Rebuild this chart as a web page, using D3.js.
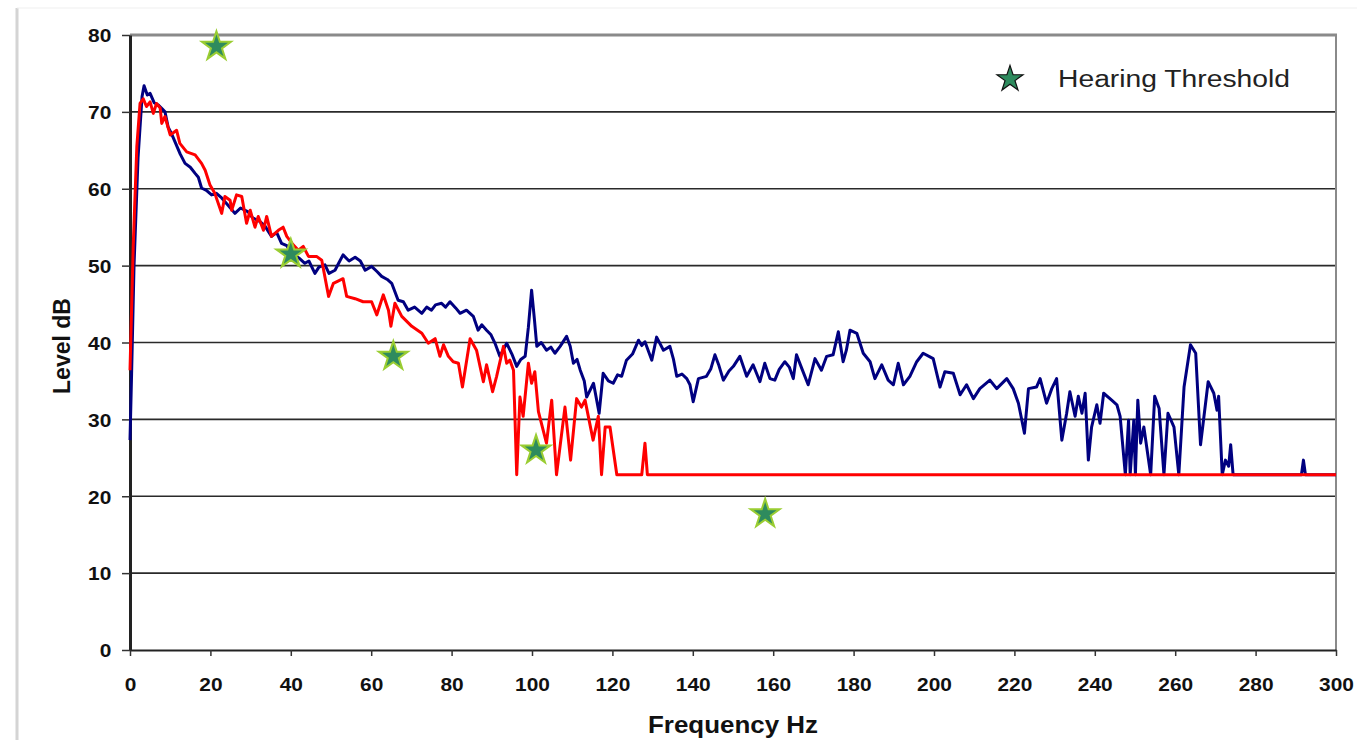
<!DOCTYPE html>
<html>
<head>
<meta charset="utf-8">
<script src="https://cdn.jsdelivr.net/npm/d3@7"></script>
<style>
  body { margin: 0; background: #fff; }
  svg { display: block; }
</style>
</head>
<body>
<script>
// spectrum levels, Hz / dB
var blueFreq = [0, 0.4, 1, 2, 3, 3.5, 4.3, 5, 6, 7, 8, 8.7, 9.5, 10.3, 11.2, 12.5, 13.7, 15, 16.2, 17, 17.8, 19, 20.3, 21.5, 22.8, 24.5, 26.1, 27.5, 29.4, 30.5, 31.9, 33.5, 35.2, 36.5, 37.7, 39, 40.2, 42, 43.5, 44.5, 46, 47, 48.5, 49.5, 51, 52, 53, 54.5, 56, 57.3, 58.5, 60.1, 61.5, 62.6, 64, 65.1, 66.7, 68, 69.2, 70.8, 72.6, 73.8, 75, 76, 77.5, 78.5, 79.6, 81, 82.1, 83.7, 85.4, 86.6, 87.5, 88.7, 89.8, 90.8, 92, 93.7, 95, 96.2, 97.2, 98.3, 99.1, 99.9, 100.6, 101.2, 102.3, 103.6, 104.7, 105.7, 107, 108.6, 109.5, 110.3, 111.2, 112, 113, 113.6, 115.3, 116.7, 117.7, 119, 120.2, 121.3, 122.3, 123.5, 125, 126.5, 127.3, 128.1, 129.8, 131, 132.7, 134.3, 135.2, 136, 137.3, 138.5, 139.3, 140.1, 141.4, 143.4, 144.5, 145.5, 146.5, 147.6, 149, 150.1, 151.7, 153.4, 155, 156.7, 157.9, 159.2, 160.4, 161.5, 162.9, 164, 165, 165.8, 167.2, 168.7, 170.4, 172, 173.3, 174.9, 176.2, 177.4, 178.2, 179.1, 180.8, 182.4, 184.1, 185.3, 187, 188.6, 189.9, 191.1, 192.4, 194, 195.7, 197.3, 199.8, 201.5, 202.7, 204.8, 206.5, 208.1, 209.8, 211.4, 213.9, 215.6, 218.1, 219.7, 221, 222.5, 223.5, 225.5, 226.4, 228, 229.3, 230.5, 231.8, 233, 233.8, 235.1, 235.9, 236.8, 237.6, 238.4, 239.2, 240.5, 241.3, 242.2, 244.2, 245.5, 246.3, 247.6, 248.4, 248.8, 249.7, 250.1, 250.7, 251.4, 252.2, 253.9, 254.9, 256, 257.2, 258.2, 259.7, 260.9, 262.2, 263.8, 265.1, 266.3, 268.2, 269.6, 270.4, 270.8, 271.7, 272.5, 273.3, 273.8, 274.4, 291.4, 291.9, 292.4, 300];
var blueLevel = [27.3, 36, 50, 64, 72, 73.4, 72.2, 72.4, 71.2, 70.9, 70.4, 70, 68, 67.2, 66.1, 64.5, 63.3, 62.8, 62, 61.5, 60.1, 59.8, 59.2, 59.4, 58.8, 57.8, 56.8, 57.5, 57, 56.2, 55.9, 55.2, 53.8, 54.3, 52.9, 52.6, 51.6, 51, 50.3, 50.6, 49, 49.8, 50.1, 49, 49.4, 50.4, 51.4, 50.6, 51.1, 50.6, 49.4, 49.9, 49.2, 48.6, 48.2, 47.7, 45.5, 45.3, 44.2, 44.6, 43.8, 44.6, 44.2, 44.9, 45.1, 44.6, 45.3, 44.5, 43.8, 44.2, 43.4, 41.6, 42.3, 41.6, 41, 39.9, 38.2, 39.9, 38.5, 36.9, 37.8, 38.2, 42, 46.8, 43, 39.5, 40, 39, 39.4, 38.6, 39.5, 40.8, 39.5, 37.3, 37.8, 36.4, 35, 32.9, 34.7, 30.8, 36, 35, 34.7, 35.8, 35.6, 37.7, 38.5, 40.3, 39.6, 40.1, 37.7, 40.7, 39, 39.5, 37.8, 35.6, 35.9, 35.3, 34.5, 32.3, 35.3, 35.6, 36.6, 38.4, 37, 35.1, 36.3, 36.9, 38.2, 35.6, 37.1, 34.9, 37.3, 35.3, 35.1, 36.5, 37.5, 36.8, 35.3, 38.4, 36.5, 34.5, 37.9, 36.4, 38.2, 38.4, 41.4, 37.5, 39, 41.6, 41.2, 38.6, 37.5, 35.3, 37.1, 35.1, 34.5, 37.3, 34.5, 35.6, 37.5, 38.6, 37.9, 34.2, 36.2, 36, 33.2, 34.5, 32.7, 34, 35.1, 34, 35.3, 34, 32.1, 28.2, 34, 34.2, 35.3, 32.1, 34, 35.3, 27.3, 30.8, 33.6, 30.4, 33, 30.8, 33.4, 24.7, 29, 31.9, 29.5, 33.4, 32.5, 31.9, 30.4, 22.8, 29.9, 22.8, 29.9, 22.8, 32.5, 26.9, 29, 22.8, 33, 31.4, 22.8, 30.8, 29, 22.8, 34.2, 39.7, 38.6, 26.7, 34.9, 33.4, 31.2, 33, 22.8, 24.7, 23.9, 26.7, 22.8, 22.8, 24.7, 22.8, 22.8];

var redFreq = [0, 0.8, 1.7, 2.5, 3.3, 4.1, 5, 5.8, 6.6, 7.5, 7.9, 8.7, 10, 11.6, 12.4, 14.1, 16.2, 17.8, 18.7, 19.9, 21.1, 22.8, 23.6, 24.9, 25.3, 26.5, 27.8, 29, 29.9, 31.1, 31.9, 33.2, 34, 35.2, 36.9, 38.1, 39, 40.6, 41.9, 43.1, 44.4, 46.4, 47.7, 49.4, 50.6, 53, 53.9, 56, 58, 60.1, 61.4, 63, 64.3, 64.9, 65.9, 67.6, 70.1, 72.6, 74.2, 75.9, 77.1, 78, 79.2, 80.4, 81.7, 82.7, 84.6, 86.2, 87.9, 88.7, 90.2, 91.2, 92.9, 93.7, 94.5, 95.4, 96.2, 97, 97.8, 99.1, 99.9, 100.7, 101.6, 103.6, 104.9, 106.1, 108.2, 109.6, 111.1, 112.3, 113.2, 115.2, 116.5, 117.3, 118.2, 119.4, 121.1, 127.3, 128.1, 128.7, 300];
var redLevel = [36.4, 52.5, 65.5, 71.1, 71.7, 70.7, 71.3, 69.8, 71.1, 70.5, 68.5, 69.4, 67, 67.6, 65.9, 64.8, 64.4, 63.3, 62.4, 60.5, 59.4, 56.8, 59, 58.5, 57.2, 59.2, 59, 55.5, 57.2, 55, 56.4, 54.6, 56.4, 53.8, 54.6, 55, 53.8, 52.7, 52, 52.5, 51.2, 51.2, 50.7, 46, 47.7, 48.3, 46, 45.7, 45.3, 45.3, 43.6, 46.2, 44.2, 42.1, 45.1, 43.4, 42.1, 41.2, 39.9, 40.5, 38.2, 39.7, 38.2, 37.5, 37.3, 34.2, 40.5, 39, 34.9, 37.1, 33.6, 35.6, 39.5, 37.3, 37.7, 36.4, 22.8, 32.9, 30.4, 37.3, 34.7, 36.2, 31, 26.9, 32.5, 22.8, 31.6, 24.7, 32.7, 31.6, 32.5, 27.3, 30.4, 22.8, 29, 29, 22.8, 22.8, 26.9, 22.8, 22.8];

var thresholdFreq = [21.5, 40, 65.5, 101, 158];
var thresholdLevel = [78.5, 51.5, 38.2, 26, 17.7];

var xTicks = d3.range(0, 301, 20);
var yTicks = d3.range(0, 81, 10);

var width = 1357;
var height = 740;

var svg = d3.select("body").append("svg")
    .attr("width", width)
    .attr("height", height);

// page edges of the scanned figure
svg.append("line")
    .attr("x1", 17).attr("x2", 17).attr("y1", 8).attr("y2", height)
    .style("stroke", "#d4d4d4").style("stroke-width", 3);
svg.append("line")
    .attr("x1", 17).attr("x2", width).attr("y1", 8).attr("y2", 8)
    .style("stroke", "#efefef").style("stroke-width", 1);

var x = d3.scaleLinear().domain([0, 300]).range([130, 1336]);
var y = d3.scaleLinear().domain([0, 80]).range([650, 35]);

// grid
svg.append("g").selectAll("line")
    .data(yTicks.filter(d => d > 0 && d < 80))
    .enter().append("line")
    .attr("x1", x(0)).attr("x2", x(300))
    .attr("y1", d => y(d)).attr("y2", d => y(d))
    .style("stroke", "#2a2a2a").style("stroke-width", 1.6);

// top + right frame
svg.append("line")
    .attr("x1", x(0)).attr("x2", x(300) + 1)
    .attr("y1", y(80)).attr("y2", y(80))
    .style("stroke", "#8a8a8a").style("stroke-width", 3);
svg.append("line")
    .attr("x1", x(300)).attr("x2", x(300))
    .attr("y1", y(80)).attr("y2", y(0))
    .style("stroke", "#8a8a8a").style("stroke-width", 2);

var xAxis = svg.append("g")
    .attr("transform", "translate(0," + y(0) + ")")
    .call(d3.axisBottom(x).tickValues(xTicks).tickSize(6).tickSizeOuter(0).tickPadding(22));
xAxis.select(".domain").style("stroke", "#222").style("stroke-width", 2);

var yAxis = svg.append("g")
    .attr("transform", "translate(" + x(0) + ",0)")
    .call(d3.axisLeft(y).tickValues(yTicks).tickSize(8).tickSizeOuter(0).tickPadding(9));
yAxis.select(".domain").style("stroke", "#222").style("stroke-width", 3);

svg.selectAll(".tick line").style("stroke", "#333").style("stroke-width", 1.5);
svg.selectAll(".tick text")
    .style("font-family", "Arial, 'Liberation Sans', sans-serif")
    .style("font-size", "19px")
    .style("font-weight", "bold")
    .style("fill", "#111")
    .attr("transform", "scale(1.1,1)");
yAxis.selectAll(".tick text").attr("dy", "0.36em");

var line = d3.line()
    .x(d => x(d[0]))
    .y(d => y(d[1]));

var blue = d3.zip(blueFreq, blueLevel);
var red = d3.zip(redFreq, redLevel);

svg.append("path")
    .datum(blue)
    .attr("d", line)
    .style("fill", "none")
    .style("stroke", "#000080")
    .style("stroke-width", 3)
    .style("stroke-linejoin", "round");

svg.append("path")
    .datum(red)
    .attr("d", line)
    .style("fill", "none")
    .style("stroke", "#ff0000")
    .style("stroke-width", 3)
    .style("stroke-linejoin", "round");

var star = d3.symbol().type(d3.symbolStar);

svg.append("g").selectAll("path")
    .data(d3.zip(thresholdFreq, thresholdLevel))
    .enter().append("path")
    .attr("d", star.size(260))
    .attr("transform", d => "translate(" + x(d[0]) + "," + y(d[1]) + ")")
    .style("fill", "#2e8b5e")
    .style("stroke", "#9acd32")
    .style("stroke-width", 2);

// legend
svg.append("path")
    .attr("d", star.size(210))
    .attr("transform", "translate(1010,79)")
    .style("fill", "#2e8b5e")
    .style("stroke", "#111")
    .style("stroke-width", 1.2);
svg.append("text")
    .attr("x", 1058).attr("y", 87)
    .attr("textLength", 232)
    .attr("lengthAdjust", "spacingAndGlyphs")
    .style("font-family", "Arial, 'Liberation Sans', sans-serif")
    .style("font-size", "23px")
    .style("fill", "#222")
    .text("Hearing Threshold");

// axis titles
svg.append("text")
    .attr("x", 733).attr("y", 733)
    .attr("text-anchor", "middle")
    .attr("textLength", 170)
    .attr("lengthAdjust", "spacingAndGlyphs")
    .style("font-family", "Arial, 'Liberation Sans', sans-serif")
    .style("font-size", "23px")
    .style("font-weight", "bold")
    .style("fill", "#111")
    .text("Frequency Hz");

svg.append("text")
    .attr("transform", "translate(70,346) rotate(-90)")
    .attr("text-anchor", "middle")
    .style("font-family", "Arial, 'Liberation Sans', sans-serif")
    .style("font-size", "23px")
    .style("font-weight", "bold")
    .style("fill", "#111")
    .text("Level dB");
</script>
</body>
</html>
